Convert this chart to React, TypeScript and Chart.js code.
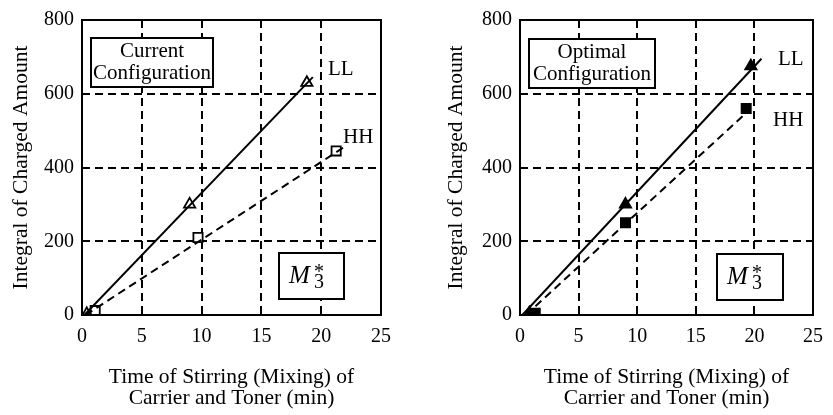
import React, { useEffect, useRef } from "react";
import { Chart, registerables } from "chart.js";

Chart.register(...registerables);

// ---- axis ticks ----
const xTicks = [0, 5, 10, 15, 20, 25];
const yTicks = [0, 200, 400, 600, 800];
const xTitle = ["Time of Stirring (Mixing) of", "Carrier and Toner (min)"];
const yTitle = "Integral of Charged Amount";

// ---- Current configuration ----
const curLLx = [0.4, 9, 18.8];
const curLLy = [3, 300, 630];
const curLLfitX = [0.2, 19.3];
const curLLfitY = [0, 645];
const curHHx = [1.1, 9.7, 21.25];
const curHHy = [12, 210, 445];
const curHHfitX = [0.3, 21.9];
const curHHfitY = [0, 455];

// ---- Optimal configuration ----
const optLLx = [0.8, 9, 19.7];
const optLLy = [5, 300, 675];
const optLLfitX = [0.2, 20.6];
const optLLfitY = [0, 695];
const optHHx = [1.3, 9, 19.3];
const optHHy = [5, 250, 560];
const optHHfitX = [0.5, 19.2];
const optHHfitY = [0, 545];

const FONT = "'Liberation Serif', 'Times New Roman', serif";

const pts = (xs: number[], ys: number[]) => xs.map((x, i) => ({ x, y: ys[i] }));

type PanelProps = {
  left: number;
  width: number;
  yWidth: number;
  padRight: number;
  title: string[];
  titleBox: { x: number; y: number; w: number; h: number };
  llLabel: { x: number; y: number };
  hhLabel: { x: number; y: number };
  mBox: { x: number; y: number; w: number; h: number };
  filled: boolean;
  llX: number[];
  llY: number[];
  llFitX: number[];
  llFitY: number[];
  hhX: number[];
  hhY: number[];
  hhFitX: number[];
  hhFitY: number[];
};

function Panel(p: PanelProps) {
  const ref = useRef<HTMLCanvasElement | null>(null);
  useEffect(() => {
    if (!ref.current) return;
    const annot = {
      id: "annot",
      afterDatasetsDraw(chart: any) {
        const { ctx, chartArea: a } = chart;
        ctx.save();
        ctx.strokeStyle = "#000";
        // title box
        const tb = p.titleBox;
        ctx.fillStyle = "#fff";
        ctx.fillRect(a.left + tb.x, a.top + tb.y, tb.w, tb.h);
        ctx.lineWidth = 2;
        ctx.strokeRect(a.left + tb.x, a.top + tb.y, tb.w, tb.h);
        ctx.fillStyle = "#000";
        ctx.font = `21px ${FONT}`;
        ctx.textAlign = "center";
        ctx.textBaseline = "middle";
        ctx.fillText(p.title[0], a.left + tb.x + tb.w / 2, a.top + tb.y + 13);
        ctx.fillText(p.title[1], a.left + tb.x + tb.w / 2, a.top + tb.y + 35);
        // M3* box
        const mb = p.mBox;
        ctx.fillStyle = "#fff";
        ctx.fillRect(a.left + mb.x, a.top + mb.y, mb.w, mb.h);
        ctx.strokeRect(a.left + mb.x, a.top + mb.y, mb.w, mb.h);
        ctx.fillStyle = "#000";
        ctx.textAlign = "left";
        ctx.textBaseline = "alphabetic";
        ctx.font = `italic 25px ${FONT}`;
        ctx.fillText("M", a.left + mb.x + 10, a.top + mb.y + 30);
        ctx.font = `20px ${FONT}`;
        ctx.fillText("*", a.left + mb.x + 35, a.top + mb.y + 25);
        ctx.fillText("3", a.left + mb.x + 35, a.top + mb.y + 35);
        // labels
        ctx.font = `21px ${FONT}`;
        ctx.textBaseline = "middle";
        ctx.fillText("LL", a.left + p.llLabel.x, a.top + p.llLabel.y);
        ctx.fillText("HH", a.left + p.hhLabel.x, a.top + p.hhLabel.y);
        // frame
        ctx.lineWidth = 2;
        ctx.strokeRect(a.left, a.top, a.right - a.left, a.bottom - a.top);
        ctx.restore();
      },
    };
    const chart = new Chart(ref.current, {
      type: "scatter",
      data: {
        datasets: [
          {
            data: pts(p.llFitX, p.llFitY),
            showLine: true,
            borderColor: "#000",
            borderWidth: 2,
            pointRadius: 0,
          },
          {
            data: pts(p.hhFitX, p.hhFitY),
            showLine: true,
            borderColor: "#000",
            borderWidth: 2,
            borderDash: [8, 5],
            pointRadius: 0,
          },
          {
            data: pts(p.llX, p.llY),
            pointStyle: "triangle",
            pointRadius: 6.5,
            borderColor: "#000",
            borderWidth: 1.8,
            backgroundColor: p.filled ? "#000" : "#fff",
          },
          {
            data: pts(p.hhX, p.hhY),
            pointStyle: "rect",
            pointRadius: 6.5,
            borderColor: "#000",
            borderWidth: 1.8,
            backgroundColor: p.filled ? "#000" : "#fff",
          },
        ],
      } as any,
      options: {
        responsive: false,
        animation: false,
        layout: { padding: { left: 0, top: 13, right: p.padRight, bottom: 0 } },
        plugins: { legend: { display: false }, tooltip: { enabled: false } },
        scales: {
          x: {
            type: "linear",
            min: 0,
            max: 25,
            afterBuildTicks: (s: any) => {
              s.ticks = xTicks.map((v) => ({ value: v }));
            },
            afterFit: (s: any) => {
              s.height = 100;
            },
            grid: { color: "#000", lineWidth: 2, drawTicks: false },
            border: { display: false, dash: [8, 5] },
            ticks: { color: "#000", font: { family: FONT, size: 20 }, padding: 10, maxRotation: 0 },
            title: {
              display: true,
              text: xTitle,
              color: "#000",
              font: { family: FONT, size: 21.5, lineHeight: 0.98 },
              padding: { top: 0, bottom: 6 },
            },
          },
          y: {
            type: "linear",
            min: 0,
            max: 800,
            afterBuildTicks: (s: any) => {
              s.ticks = yTicks.map((v) => ({ value: v }));
            },
            afterFit: (s: any) => {
              s.width = p.yWidth;
            },
            grid: { color: "#000", lineWidth: 2, drawTicks: false },
            border: { display: false, dash: [8, 5] },
            ticks: { color: "#000", font: { family: FONT, size: 20 }, padding: 8 },
            title: {
              display: true,
              text: yTitle,
              color: "#000",
              font: { family: FONT, size: 21.5 },
              padding: { top: 8, bottom: 0 },
            },
          },
        },
      } as any,
      plugins: [annot],
    });
    return () => chart.destroy();
  }, []);
  return (
    <canvas
      ref={ref}
      width={p.width}
      height={415}
      style={{ position: "absolute", left: p.left, top: 0, width: p.width, height: 415 }}
    />
  );
}

export default function App() {
  return (
    <div style={{ position: "fixed", left: 0, top: 0, width: 833, height: 415, background: "#fff" }}>
      <Panel
        left={0}
        width={415}
        yWidth={82}
        padRight={34}
        title={["Current", "Configuration"]}
        titleBox={{ x: 9, y: 18, w: 122, h: 49 }}
        llLabel={{ x: 246, y: 49 }}
        hhLabel={{ x: 261, y: 117 }}
        mBox={{ x: 197, y: 233, w: 65, h: 46 }}
        filled={false}
        llX={curLLx}
        llY={curLLy}
        llFitX={curLLfitX}
        llFitY={curLLfitY}
        hhX={curHHx}
        hhY={curHHy}
        hhFitX={curHHfitX}
        hhFitY={curHHfitY}
      />
      <Panel
        left={435}
        width={398}
        yWidth={85}
        padRight={14}
        title={["Optimal", "Configuration"]}
        titleBox={{ x: 9, y: 19, w: 126, h: 49 }}
        llLabel={{ x: 258, y: 39 }}
        hhLabel={{ x: 253, y: 100 }}
        mBox={{ x: 197, y: 234, w: 66, h: 46 }}
        filled={true}
        llX={optLLx}
        llY={optLLy}
        llFitX={optLLfitX}
        llFitY={optLLfitY}
        hhX={optHHx}
        hhY={optHHy}
        hhFitX={optHHfitX}
        hhFitY={optHHfitY}
      />
    </div>
  );
}
